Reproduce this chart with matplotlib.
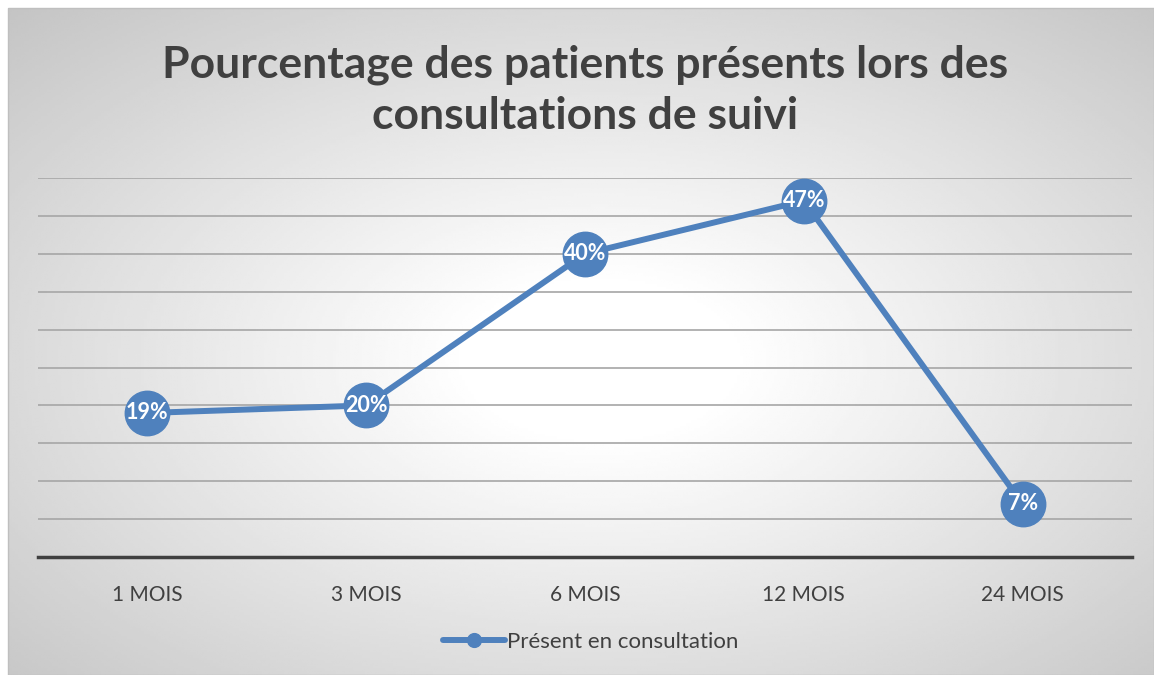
import numpy as np
import matplotlib.pyplot as plt
from matplotlib.patches import Rectangle

categories = ['1 MOIS', '3 MOIS', '6 MOIS', '12 MOIS', '24 MOIS']
presence = [19, 20, 40, 47, 7]
labels = ['19%', '20%', '40%', '47%', '7%']
series_name = 'Présent en consultation'
title = 'Pourcentage des patients présents lors des\nconsultations de suivi'

BLUE = '#4f81bd'
DARK = '#404040'
plt.rcParams['font.family'] = ['Lato', 'DejaVu Sans']

W, H = 1154, 675
fig = plt.figure(figsize=(W / 100, H / 100), dpi=100)

# radial gradient background panel
bg = fig.add_axes([0, 0, 1, 1])
bg.set_xlim(0, W)
bg.set_ylim(H, 0)
bg.axis('off')
xx, yy = np.meshgrid(np.linspace(8, W, 400), np.linspace(8, H, 250))
cx, cy = 600, 360
d = np.sqrt(((xx - cx) / 620) ** 2 + ((yy - cy) / 360) ** 2) / np.sqrt(2)
v = 1 - 0.24 * np.clip((d - 0.15) / 0.85, 0, 1)
bg.imshow(v, cmap='gray', vmin=0, vmax=1, extent=(8, W, H, 8), aspect='auto', zorder=0)
bg.add_patch(Rectangle((8, 8), W - 8, H - 8, fill=False, edgecolor='#bfbfbf', lw=1, zorder=1))

ax = fig.add_axes([38 / W, 1 - 557 / H, (1132 - 38) / W, (557 - 178) / H])
ax.patch.set_alpha(0)
x = np.arange(len(categories))
ax.plot(x, presence, color=BLUE, lw=4.3, marker='o', markersize=32,
        markeredgecolor=BLUE, solid_capstyle='round', zorder=3, label=series_name)
for xi, yi, t in zip(x, presence, labels):
    ax.text(xi, yi, t, color='white', fontsize=15.5, fontweight='bold',
            ha='center', va='center', zorder=4)

ax.set_xlim(-0.5, len(categories) - 0.5)
ax.set_ylim(0, 50)
ax.set_yticks(np.arange(0, 51, 5))
ax.yaxis.grid(True, color='#a6a6a6', lw=1.2)
ax.set_axisbelow(True)
ax.tick_params(axis='y', left=False, labelleft=False)
ax.tick_params(axis='x', length=0, pad=20, labelsize=15, labelcolor=DARK)
ax.set_xticks(x)
ax.set_xticklabels(categories)
for s in ['top', 'right', 'left']:
    ax.spines[s].set_visible(False)
ax.spines['bottom'].set_color(DARK)
ax.spines['bottom'].set_linewidth(2.5)

fig.text(585 / W, 1 - 90 / H, title, ha='center', va='center', fontsize=32,
         fontweight='bold', color=DARK, linespacing=1.32)

leg = ax.legend(loc='center', bbox_to_anchor=(0.505, (557 - 642) / (557 - 178)),
                frameon=False, fontsize=16, handlelength=2.8, markerscale=0.31,
                handletextpad=0.1)
for t in leg.get_texts():
    t.set_color(DARK)

fig.savefig('out.png', dpi=100)
